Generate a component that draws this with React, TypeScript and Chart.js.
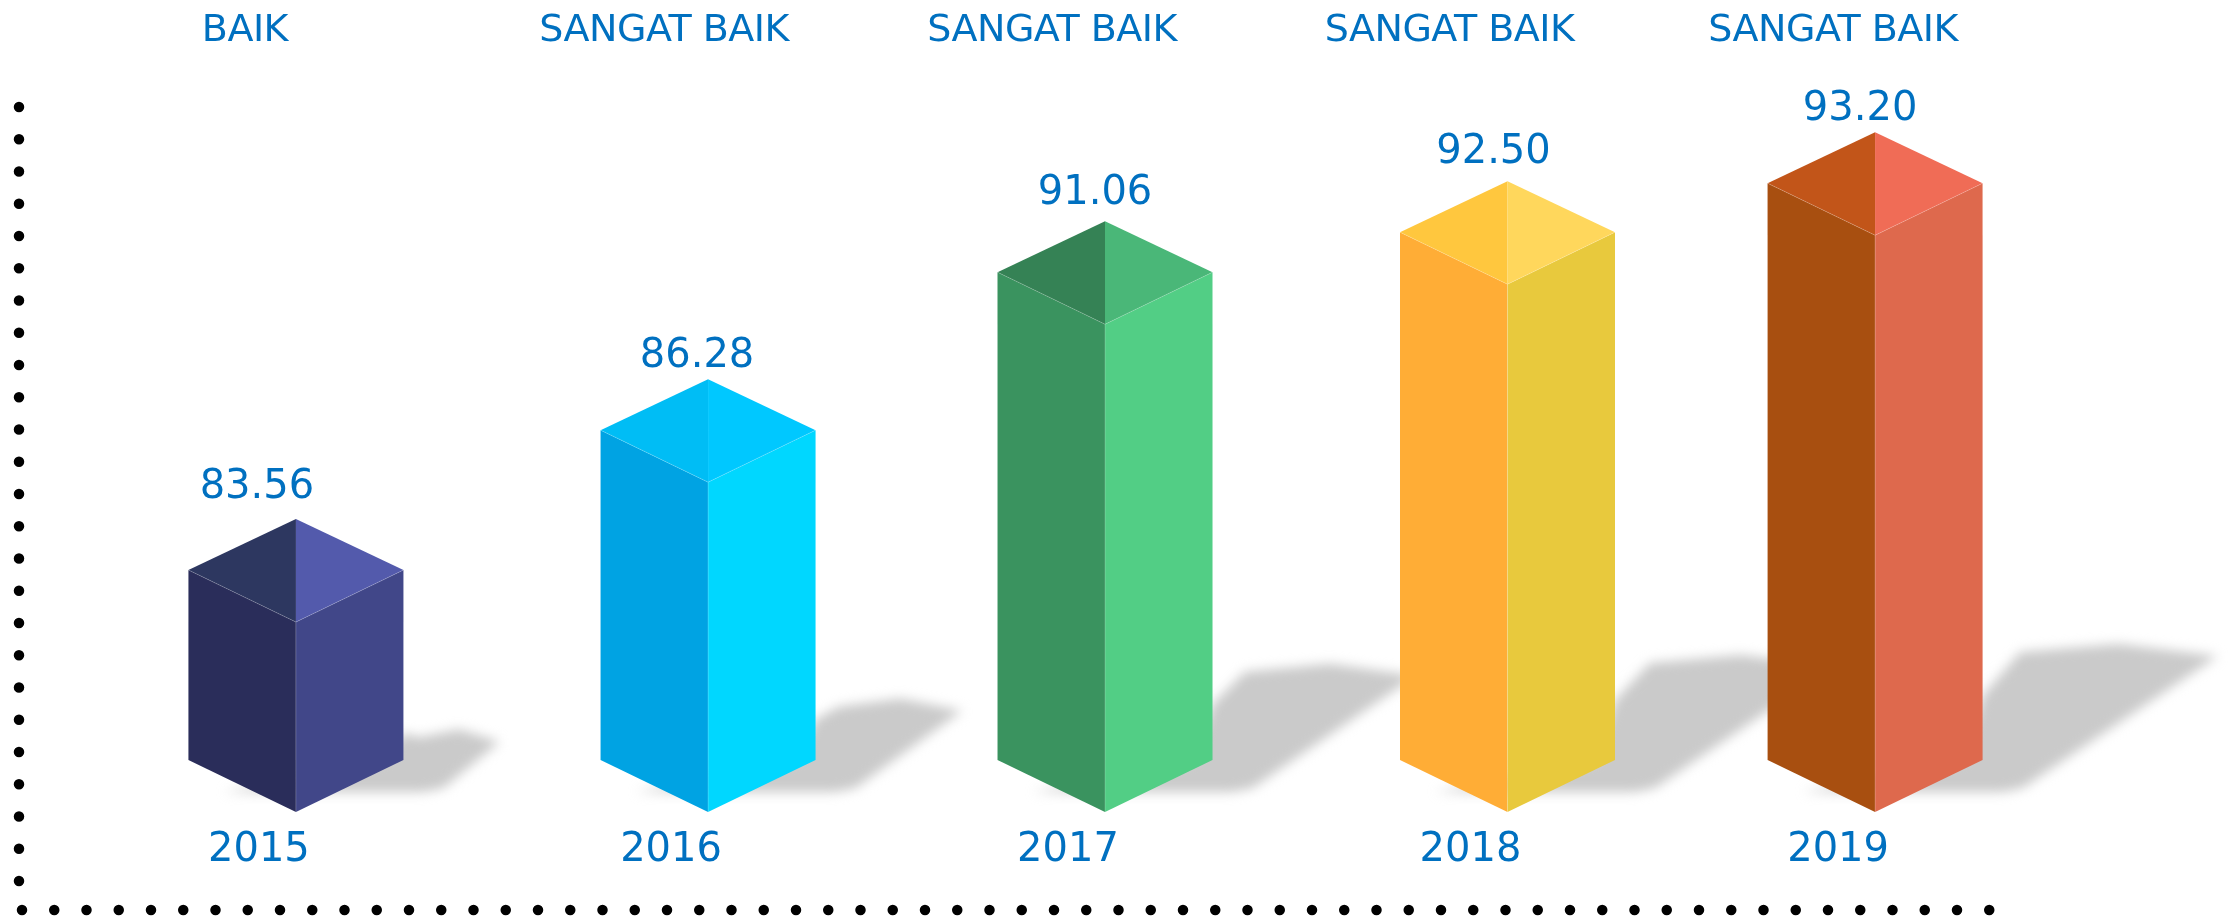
import React, { useEffect, useRef } from "react";
import { Chart, registerables, LinearScale, CategoryScale } from "chart.js";

// ---- data ----
const years = ["2015", "2016", "2017", "2018", "2019"];
const scores = [83.56, 86.28, 91.06, 92.5, 93.2];
const scoreLabels = ["83.56", "86.28", "91.06", "92.50", "93.20"];
const grades = ["BAIK", "SANGAT BAIK", "SANGAT BAIK", "SANGAT BAIK", "SANGAT BAIK"];

// The picture's value axis is not linear: these stops describe it (value -> share of axis height).
const axisValues = [82, 83.56, 86.28, 91.06, 92.5, 93.2, 95];
const axisShares = [0, 0.2694, 0.4679, 0.6919, 0.7486, 0.8181, 1];
// The picture's bars are not evenly spaced (share of axis width).
const yearShares = [0.1405, 0.3496, 0.551, 0.7552, 0.9417];

// faces: left side, right side, top-left, top-right
const leftColors = ["#2A2D5A", "#00A3E3", "#3A935F", "#FFAD36", "#A84F10"];
const rightColors = ["#414789", "#00D7FF", "#52CE85", "#E8C93D", "#DE694D"];
const topLeftColors = ["#2D3760", "#00BDF5", "#358255", "#FFC73E", "#C25519"];
const topRightColors = ["#535AAC", "#00C8FF", "#4AB778", "#FFD75C", "#F06C56"];

// label nudges relative to each bar
const gradeShift = [-51, -44, -53, -58, -42];
const scoreShiftX = [-39, -11, -10, -14, -15];
const scoreLift = [134, 126, 131, 132, 126];

const TEXT = "#0070C0";
const FONT = "'DejaVu Sans'";
const DEPTH = 52;

class StopYScale extends LinearScale {
  static id = "stopY";
  static defaults = LinearScale.defaults;
  getPixelForValue(v: number) {
    let i = 0;
    while (i < axisValues.length - 2 && v > axisValues[i + 1]) i++;
    const t = (v - axisValues[i]) / (axisValues[i + 1] - axisValues[i]);
    const share = axisShares[i] + t * (axisShares[i + 1] - axisShares[i]);
    return this.bottom - share * (this.bottom - this.top);
  }
}

class StopXScale extends CategoryScale {
  static id = "stopX";
  static defaults = CategoryScale.defaults;
  getPixelForValue(v: any) {
    const idx = typeof v === "number" ? v : this.parse(v);
    return this.left + yearShares[idx] * (this.right - this.left);
  }
}

Chart.register(...registerables, StopYScale, StopXScale);

function poly(ctx: CanvasRenderingContext2D, pts: number[][], fill: string) {
  ctx.beginPath();
  pts.forEach((p, i) => (i ? ctx.lineTo(p[0], p[1]) : ctx.moveTo(p[0], p[1])));
  ctx.closePath();
  ctx.fillStyle = fill;
  ctx.fill();
}

function edge(ctx: CanvasRenderingContext2D, pts: number[][]) {
  ctx.beginPath();
  pts.forEach((p, i) => (i ? ctx.lineTo(p[0], p[1]) : ctx.moveTo(p[0], p[1])));
  ctx.strokeStyle = "rgba(255,255,255,0.18)";
  ctx.lineWidth = 1;
  ctx.stroke();
}

const prismPlugin = {
  id: "prism",
  beforeDraw(chart: any) {
    const { ctx, chartArea, scales } = chart;
    ctx.save();
    ctx.strokeStyle = "#000";
    ctx.lineWidth = 10.5;
    ctx.lineCap = "round";
    ctx.setLineDash([0, 32.25]);
    ctx.beginPath();
    ctx.moveTo(chartArea.left, chartArea.top);
    ctx.lineTo(chartArea.left, scales.x.bottom - 28);
    ctx.stroke();
    ctx.beginPath();
    ctx.moveTo(chartArea.left + 3, scales.x.bottom);
    ctx.lineTo(chartArea.right + 1, scales.x.bottom);
    ctx.stroke();
    ctx.restore();
  },
  beforeDatasetDraw(chart: any) {
    const { ctx } = chart;
    const bars = chart.getDatasetMeta(0).data;
    ctx.save();
    ctx.filter = "blur(6px)";
    bars.forEach((b: any) => {
      const half = b.width / 2;
      const h = b.base - b.y;
      const rx = b.x + half;
      const ry = b.base - DEPTH;
      const tipX = 28 + 0.359 * h;
      const tipY = 24 - 0.222 * h;
      const topY = 11 - 0.22 * h;
      poly(
        ctx,
        [
          [b.x - 72, b.base - 20],
          [rx + 20, b.base - 20],
          [rx + 40, b.base - 24],
          [rx + tipX, ry + tipY],
          [rx + tipX * 0.58, ry + topY],
          [rx + tipX * 0.16, ry + topY + 8],
          [rx, ry - 9 - 0.096 * h],
          [rx - 20, ry],
        ],
        "#CACACA"
      );
    });
    ctx.restore();
    bars.forEach((b: any, i: number) => {
      const half = b.width / 2;
      const L = b.x - half;
      const R = b.x + half;
      const front = b.y;
      const side = b.y - DEPTH;
      const apex = b.y - 2 * DEPTH + 1;
      poly(ctx, [[L, side], [b.x, front], [b.x, b.base], [L, b.base - DEPTH]], leftColors[i]);
      poly(ctx, [[b.x, front], [R, side], [R, b.base - DEPTH], [b.x, b.base]], rightColors[i]);
      poly(ctx, [[L, side], [b.x, apex], [b.x, front]], topLeftColors[i]);
      poly(ctx, [[b.x, apex], [R, side], [b.x, front]], topRightColors[i]);
      edge(ctx, [[L, side], [b.x, front], [R, side]]);
      edge(ctx, [[b.x, front], [b.x, b.base]]);
    });
    return false;
  },
  afterDatasetsDraw(chart: any) {
    const { ctx } = chart;
    const bars = chart.getDatasetMeta(0).data;
    ctx.save();
    ctx.fillStyle = TEXT;
    ctx.textAlign = "center";
    ctx.textBaseline = "middle";
    bars.forEach((b: any, i: number) => {
      ctx.font = `40px ${FONT}`;
      (ctx as any).letterSpacing = "0px";
      ctx.fillText(scoreLabels[i], b.x + scoreShiftX[i], b.y - scoreLift[i]);
      ctx.font = `38px ${FONT}`;
      (ctx as any).letterSpacing = "-0.5px";
      ctx.fillText(grades[i], b.x + gradeShift[i], 31);
    });
    ctx.restore();
  },
};

export default function App() {
  const ref = useRef<HTMLCanvasElement>(null);
  useEffect(() => {
    const chart = new Chart(ref.current as HTMLCanvasElement, {
      type: "bar",
      data: {
        labels: years,
        datasets: [
          {
            label: "Nilai",
            data: scores,
            base: 82,
            barThickness: 215,
            backgroundColor: rightColors,
            borderColor: leftColors,
          } as any,
        ],
      },
      options: {
        responsive: false,
        animation: false,
        devicePixelRatio: 1,
        layout: { padding: { left: 19, top: 107, right: 240, bottom: 8 } },
        plugins: { legend: { display: false }, tooltip: { enabled: false }, title: { display: false } },
        scales: {
          x: {
            type: "stopX",
            grid: { display: false, drawTicks: false },
            border: { display: false },
            afterFit: (s: any) => {
              s.height = 98;
            },
            ticks: {
              color: TEXT,
              font: { family: "DejaVu Sans", size: 40 },
              padding: 15,
              labelOffset: -37,
              maxRotation: 0,
              autoSkip: false,
            },
          },
          y: {
            type: "stopY",
            min: 82,
            max: 95,
            display: false,
          },
        },
      } as any,
      plugins: [prismPlugin as any],
    });
    return () => chart.destroy();
  }, []);
  return (
    <div style={{ position: "fixed", left: 0, top: 0, width: 2230, height: 918, background: "#fff" }}>
      <canvas ref={ref} width={2230} height={918} style={{ display: "block" }} />
    </div>
  );
}
